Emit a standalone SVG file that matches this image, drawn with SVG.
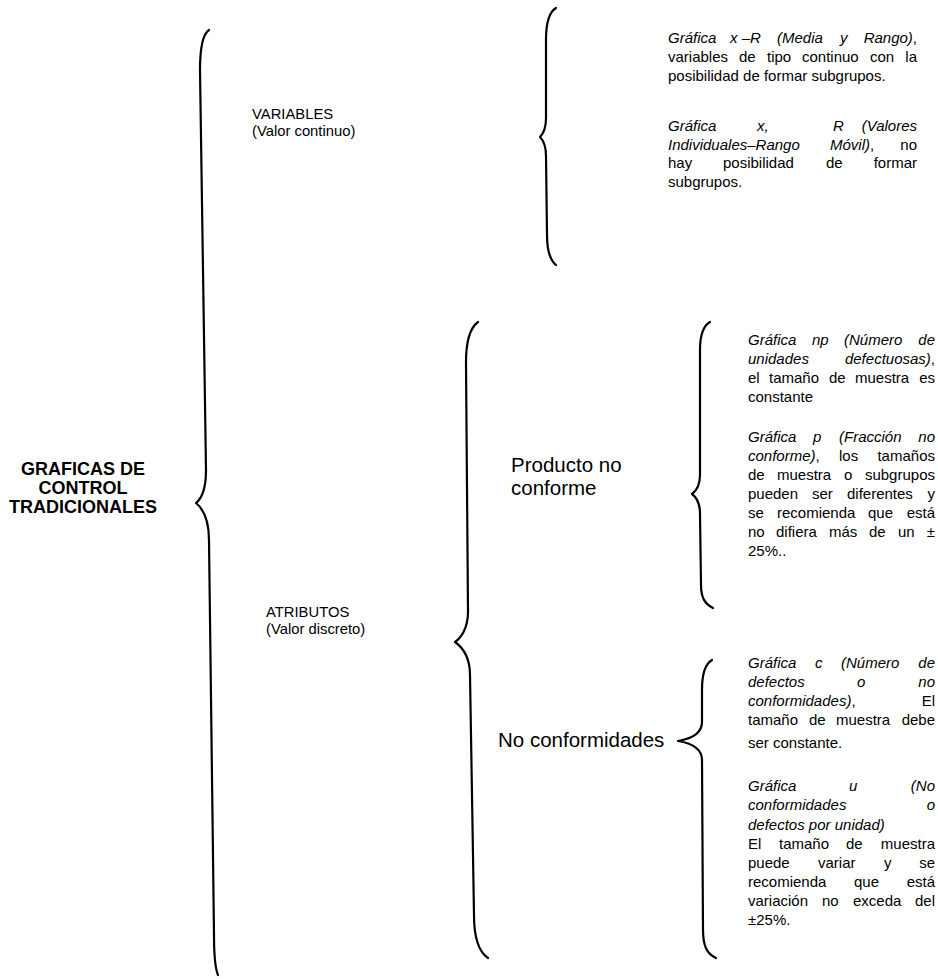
<svg xmlns="http://www.w3.org/2000/svg" width="938" height="979" viewBox="0 0 938 979">
  <style>
    text { font-family: "Liberation Sans", Arial, sans-serif; fill: #000; }
    .sm { font-size: 15px; }
    .it { font-style: italic; }
    .mid { font-size: 14.8px; }
    .big { font-size: 20.5px; }
    .title { font-size: 18px; font-weight: bold; }
    .end { text-anchor: end; }
    .brace { fill: none; stroke: #000; stroke-width: 2.2; stroke-linecap: round; stroke-linejoin: round; }
  </style>

  <!-- braces -->
  <g id="connectors">
    <path class="brace" d="M209,30 C203,34 200,48 200,70 L206,470 C206,490 201,499 196,503 C202,508 209,518 209,540 L214,935 C214,955 215,968 218,975"/>
    <path class="brace" d="M556,8 C549,12 546,22 546,40 L546,118 C546,128 543,134 540,137 C543,140 546,146 546,156 L547,235 C547,250 550,260 556,265"/>
    <path class="brace" d="M478,322 C470,328 466,342 466,362 L468,612 C468,628 461,638 455,642 C462,647 470,656 470,675 L474,915 C474,940 479,952 488,958"/>
    <path class="brace" d="M710,322 C703,326 700,336 700,350 L700,475 C700,486 696,491 692,494 C696,497 700,503 700,514 L701,585 C701,598 705,604 713,608"/>
    <path class="brace" d="M712,660 C705,664 702,674 702,690 L702,722 C702,734 690,739 678,741 C690,743 702,748 702,760 L703,930 C703,946 707,954 716,958"/>
  </g>

  <g id="root">
    <text class="title" text-anchor="middle"><tspan x="83" y="475">GRAFICAS DE</tspan><tspan x="83" y="494">CONTROL</tspan><tspan x="83" y="513">TRADICIONALES</tspan></text>
  </g>

  <g id="variables">
    <text class="mid"><tspan x="252" y="119">VARIABLES</tspan><tspan x="252" y="136">(Valor continuo)</tspan></text>
  </g>

  <g id="atributos">
    <text class="mid"><tspan x="266" y="617">ATRIBUTOS</tspan><tspan x="266" y="634">(Valor discreto)</tspan></text>
  </g>

  <g id="producto-no-conforme">
    <text class="big"><tspan x="511" y="472">Producto no</tspan><tspan x="511" y="495">conforme</tspan></text>
  </g>

  <g id="no-conformidades">
    <text class="big" x="498" y="747">No conformidades</text>
  </g>

  <!-- charts for variables -->
  <g id="grafica-xr" class="sm">
    <text class="it" y="43"><tspan x="668">Gráfica</tspan><tspan x="730">x –R</tspan><tspan x="777">(Media</tspan><tspan x="840">y</tspan></text>
    <text class="end" x="917" y="43"><tspan class="it">Rango)</tspan>,</text>
    <text y="62"><tspan x="668">variables</tspan><tspan x="739">de</tspan><tspan x="767">tipo</tspan><tspan x="802">continuo</tspan><tspan x="870">con</tspan></text>
    <text class="end" x="917" y="62">la</text>
    <text x="668" y="81">posibilidad de formar subgrupos.</text>
  </g>

  <g id="grafica-x-rm" class="sm">
    <text class="it" y="131"><tspan x="668">Gráfica</tspan><tspan x="757">x,</tspan><tspan x="833">R</tspan></text>
    <text class="it end" x="917" y="131">(Valores</text>
    <text y="150"><tspan class="it" x="668">Individuales–Rango</tspan><tspan class="it" x="830">Móvil)</tspan><tspan>,</tspan></text>
    <text class="end" x="917" y="150">no</text>
    <text y="168"><tspan x="668">hay</tspan><tspan x="723">posibilidad</tspan><tspan x="826">de</tspan></text>
    <text class="end" x="917" y="168">formar</text>
    <text x="668" y="187">subgrupos.</text>
  </g>

  <!-- charts for nonconforming product -->
  <g id="grafica-np" class="sm">
    <text class="it" y="345"><tspan x="748">Gráfica</tspan><tspan x="812">np</tspan><tspan x="844">(Número</tspan></text>
    <text class="it end" x="935" y="345">de</text>
    <text class="it" x="748" y="364">unidades</text>
    <text class="end" x="935" y="364"><tspan class="it">defectuosas)</tspan>,</text>
    <text y="383"><tspan x="748">el</tspan><tspan x="769">tamaño</tspan><tspan x="829">de</tspan><tspan x="855">muestra</tspan></text>
    <text class="end" x="935" y="383">es</text>
    <text x="748" y="402">constante</text>
  </g>

  <g id="grafica-p" class="sm">
    <text class="it" y="442"><tspan x="748">Gráfica</tspan><tspan x="813">p</tspan><tspan x="839">(Fracción</tspan></text>
    <text class="it end" x="935" y="442">no</text>
    <text y="461"><tspan class="it" x="748">conforme)</tspan><tspan>,</tspan><tspan x="839">los</tspan></text>
    <text class="end" x="935" y="461">tamaños</text>
    <text y="480"><tspan x="748">de</tspan><tspan x="777">muestra</tspan><tspan x="844">o</tspan></text>
    <text class="end" x="935" y="480">subgrupos</text>
    <text y="499"><tspan x="748">pueden</tspan><tspan x="812">ser</tspan><tspan x="847">diferentes</tspan></text>
    <text class="end" x="935" y="499">y</text>
    <text y="518"><tspan x="748">se</tspan><tspan x="777">recomienda</tspan><tspan x="868">que</tspan></text>
    <text class="end" x="935" y="518">está</text>
    <text y="537"><tspan x="748">no</tspan><tspan x="776">difiera</tspan><tspan x="829">más</tspan><tspan x="869">de</tspan><tspan x="898">un</tspan></text>
    <text class="end" x="935" y="537">±</text>
    <text x="748" y="556">25%..</text>
  </g>

  <!-- charts for nonconformities -->
  <g id="grafica-c" class="sm">
    <text class="it" y="668"><tspan x="748">Gráfica</tspan><tspan x="815">c</tspan><tspan x="841">(Número</tspan></text>
    <text class="it end" x="935" y="668">de</text>
    <text class="it" y="687"><tspan x="748">defectos</tspan><tspan x="857">o</tspan></text>
    <text class="it end" x="935" y="687">no</text>
    <text y="706"><tspan class="it" x="748">conformidades)</tspan><tspan>,</tspan></text>
    <text class="end" x="935" y="706">El</text>
    <text y="725"><tspan x="748">tamaño</tspan><tspan x="809">de</tspan><tspan x="836">muestra</tspan></text>
    <text class="end" x="935" y="725">debe</text>
    <text x="748" y="748">ser constante.</text>
  </g>

  <g id="grafica-u" class="sm">
    <text class="it" y="791"><tspan x="748">Gráfica</tspan><tspan x="849">u</tspan></text>
    <text class="it end" x="935" y="791">(No</text>
    <text class="it" x="748" y="810">conformidades</text>
    <text class="it end" x="935" y="810">o</text>
    <text class="it" x="748" y="830">defectos por unidad)</text>
    <text y="849"><tspan x="748">El</tspan><tspan x="779">tamaño</tspan><tspan x="846">de</tspan></text>
    <text class="end" x="935" y="849">muestra</text>
    <text y="868"><tspan x="748">puede</tspan><tspan x="818">variar</tspan><tspan x="884">y</tspan></text>
    <text class="end" x="935" y="868">se</text>
    <text y="887"><tspan x="748">recomienda</tspan><tspan x="854">que</tspan></text>
    <text class="end" x="935" y="887">está</text>
    <text y="906"><tspan x="748">variación</tspan><tspan x="822">no</tspan><tspan x="853">exceda</tspan></text>
    <text class="end" x="935" y="906">del</text>
    <text x="748" y="925">±25%.</text>
  </g>
</svg>
